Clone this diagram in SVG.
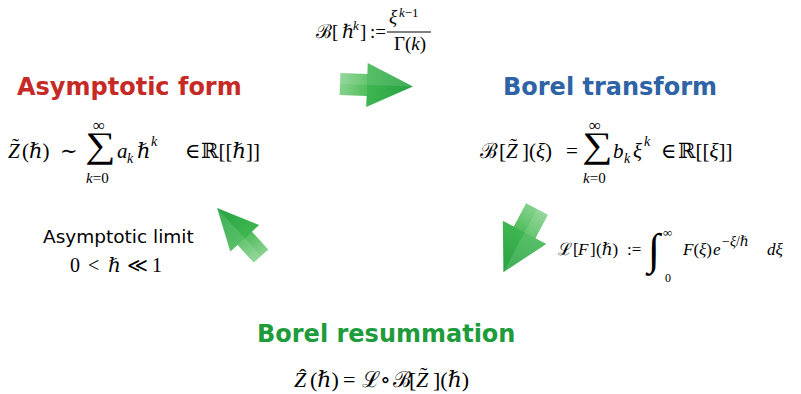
<svg xmlns="http://www.w3.org/2000/svg" width="801" height="394" viewBox="0 0 801 394">
<style>
.t{font-family:"DejaVu Sans",sans-serif;font-weight:bold;font-size:24px}
.m{font-family:"Liberation Serif","DejaVu Serif",serif;fill:#000}
.i{font-style:italic}
.lbl{font-family:"DejaVu Sans",sans-serif;font-size:18.5px;fill:#000}
</style>
<defs>
<linearGradient id="ag" x1="0" y1="0" x2="1" y2="0">
<stop offset="0" stop-color="#86d18d"/>
<stop offset="0.37" stop-color="#52be5e"/>
<stop offset="0.37" stop-color="#3fb651"/>
<stop offset="1" stop-color="#26a241"/>
</linearGradient>
<g id="arrow">
<polygon points="0,-11 27,-11 27,-22 73,0 27,22 27,11 0,11" fill="url(#ag)"/>
<polygon points="0,-11 27,-11 27,-22 73,0 0,0" fill="#ffffff" opacity="0.12"/>
</g>
</defs>
<rect width="801" height="394" fill="#fff"/>

<g id="connectors">
<use href="#arrow" transform="translate(340,84) rotate(2)"/>
<use href="#arrow" transform="translate(537,209) rotate(118) scale(0.98,1.12)"/>
<use href="#arrow" transform="translate(261,256) rotate(227.5) scale(0.89)"/>
</g>

<g id="borel-map">
<text class="m" y="38" font-size="19"><tspan x="316">ℬ[</tspan><tspan x="342">ℏ</tspan><tspan x="353" y="30" font-size="13" class="i">k</tspan><tspan x="360" y="38">]</tspan><tspan x="370">:=</tspan></text>
<line x1="387" y1="32" x2="431" y2="32" stroke="#000" stroke-width="1"/>
<text class="m" y="23" font-size="19"><tspan x="389" class="i">ξ</tspan><tspan x="399" y="17" font-size="13"><tspan class="i">k</tspan>−1</tspan></text>
<text class="m" y="50" font-size="19"><tspan x="394">Γ(</tspan><tspan class="i">k</tspan><tspan>)</tspan></text>
</g>

<g id="asymptotic-form">
<text class="t" x="17" y="95" fill="#c62a26">Asymptotic form</text>
<text class="m" y="158" font-size="21"><tspan x="8" class="i">Z</tspan><tspan x="22">(ℏ)</tspan><tspan x="60">∼</tspan><tspan x="117" class="i">a</tspan><tspan x="127" y="163" font-size="14" class="i">k</tspan><tspan x="137" y="158">ℏ</tspan><tspan x="151" y="146" font-size="14" class="i">k</tspan><tspan x="185" y="158">∈</tspan><tspan x="201">ℝ[[ℏ]]</tspan></text>
<text class="m" x="12" y="153" font-size="21">˜</text>
<text class="m" transform="translate(85,157) scale(1.25,1.05)" font-size="34">∑</text>
<text class="m" x="93" y="131" font-size="17">∞</text>
<text class="m" x="86" y="183" font-size="15"><tspan class="i">k</tspan>=0</text>
</g>

<g id="borel-transform">
<text class="t" x="503" y="95" fill="#2e63a6">Borel transform</text>
<text class="m" y="158" font-size="21"><tspan x="480">ℬ</tspan><tspan x="499">[</tspan><tspan x="506" class="i">Z</tspan><tspan x="522">](</tspan><tspan class="i">ξ</tspan><tspan>)</tspan><tspan x="566">=</tspan><tspan x="613" class="i">b</tspan><tspan x="624" y="163" font-size="14" class="i">k</tspan><tspan x="633" y="158" class="i">ξ</tspan><tspan x="644" y="146" font-size="14" class="i">k</tspan><tspan x="661" y="158">∈</tspan><tspan x="678">ℝ[[</tspan><tspan class="i">ξ</tspan><tspan>]]</tspan></text>
<text class="m" x="510" y="153" font-size="21">˜</text>
<text class="m" transform="translate(582,157) scale(1.25,1.05)" font-size="34">∑</text>
<text class="m" x="589" y="131" font-size="17">∞</text>
<text class="m" x="583" y="183" font-size="15"><tspan class="i">k</tspan>=0</text>
</g>

<g id="laplace">
<text class="m" y="255" font-size="17"><tspan x="558">ℒ</tspan><tspan x="573">[</tspan><tspan x="578" class="i">F</tspan><tspan x="590">]</tspan><tspan x="596">(ℏ)</tspan><tspan x="627">:=</tspan><tspan x="683" class="i">F</tspan><tspan>(</tspan><tspan class="i">ξ</tspan><tspan>)</tspan><tspan x="713" class="i">e</tspan><tspan x="722" y="246" font-size="14">−<tspan class="i">ξ</tspan>/ℏ</tspan><tspan x="767" y="255" class="i">dξ</tspan></text>
<text class="m i" x="648" y="264" font-size="44">∫</text>
<text class="m" x="663" y="237" font-size="13">∞</text>
<text class="m" x="665" y="282" font-size="12">0</text>
</g>

<g id="asymptotic-limit">
<text class="lbl" x="43" y="243">Asymptotic limit</text>
<text class="m" y="272" font-size="20"><tspan x="70">0</tspan><tspan x="88">&lt;</tspan><tspan x="108">ℏ</tspan><tspan x="127">≪</tspan><tspan x="152">1</tspan></text>
</g>

<g id="borel-resummation">
<text class="t" x="257" y="342" fill="#1e9b3a">Borel resummation</text>
<text class="m" y="387" font-size="22"><tspan x="294" class="i">Z</tspan><tspan x="310">(ℏ)</tspan><tspan x="343">=</tspan><tspan x="362">ℒ</tspan><tspan x="380">∘</tspan><tspan x="393">ℬ</tspan><tspan x="409">[</tspan><tspan x="416" class="i">Z</tspan><tspan x="433">](ℏ)</tspan></text>
<text class="m" x="299" y="384" font-size="22">ˆ</text>
<text class="m" x="420" y="382" font-size="22">˜</text>
</g>
</svg>
